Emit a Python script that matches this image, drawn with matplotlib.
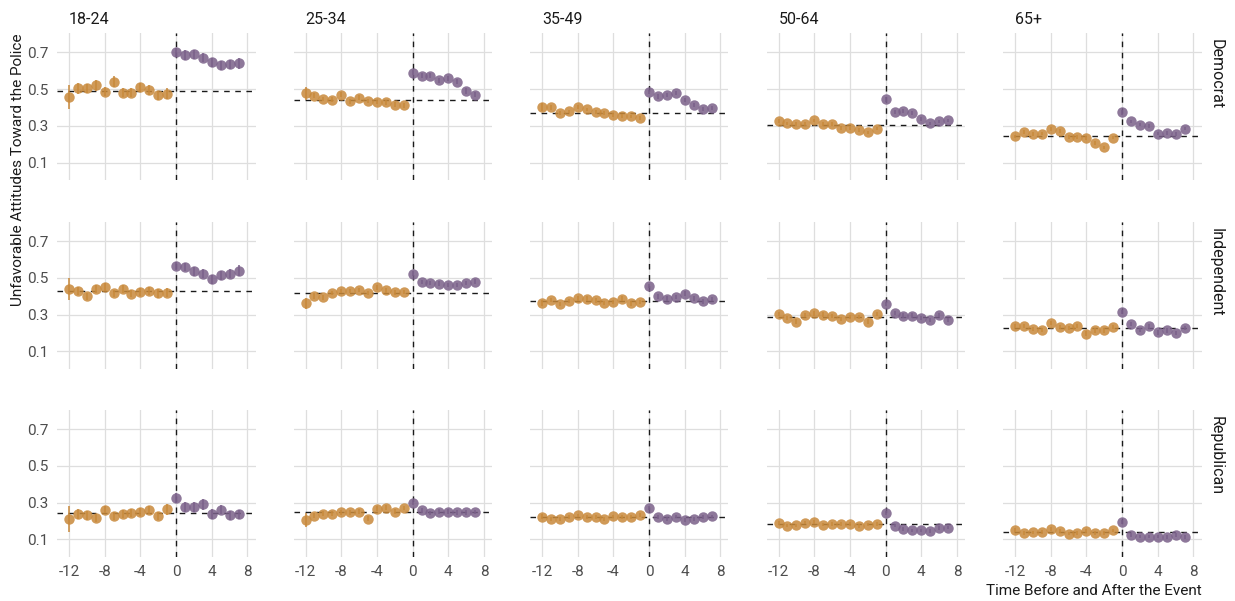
import matplotlib
matplotlib.use("Agg")
import matplotlib.pyplot as plt
import numpy as np

plt.rcParams['font.family'] = ['Roboto', 'DejaVu Sans']

ages = ["18-24", "25-34", "35-49", "50-64", "65+"]
parties = ["Democrat", "Independent", "Republican"]
months = list(range(-12, 8))

# values for months -12..7, rows = parties, inner = age groups
vals = {
    "Democrat": {
        "18-24": [0.455, 0.504, 0.505, 0.52, 0.485, 0.54, 0.48, 0.48, 0.51, 0.495, 0.465, 0.475,
                  0.70, 0.685, 0.69, 0.67, 0.645, 0.63, 0.635, 0.64],
        "25-34": [0.476, 0.464, 0.445, 0.442, 0.47, 0.433, 0.453, 0.435, 0.431, 0.427, 0.415, 0.411,
                  0.59, 0.573, 0.573, 0.547, 0.558, 0.54, 0.49, 0.47],
        "35-49": [0.40, 0.40, 0.371, 0.378, 0.404, 0.389, 0.375, 0.369, 0.358, 0.355, 0.351, 0.344,
                  0.485, 0.46, 0.467, 0.48, 0.44, 0.413, 0.39, 0.396],
        "50-64": [0.325, 0.313, 0.311, 0.309, 0.329, 0.309, 0.311, 0.287, 0.287, 0.278, 0.264, 0.285,
                  0.444, 0.375, 0.382, 0.371, 0.338, 0.313, 0.324, 0.329],
        "65+":   [0.242, 0.265, 0.256, 0.258, 0.282, 0.273, 0.24, 0.24, 0.235, 0.205, 0.182, 0.236,
                  0.373, 0.324, 0.307, 0.30, 0.258, 0.262, 0.256, 0.285],
    },
    "Independent": {
        "18-24": [0.439, 0.426, 0.399, 0.439, 0.45, 0.415, 0.44, 0.414, 0.423, 0.426, 0.415, 0.419,
                  0.565, 0.561, 0.536, 0.522, 0.493, 0.513, 0.522, 0.538],
        "25-34": [0.361, 0.40, 0.394, 0.417, 0.43, 0.43, 0.433, 0.417, 0.448, 0.432, 0.421, 0.423,
                  0.523, 0.477, 0.471, 0.469, 0.462, 0.462, 0.471, 0.48],
        "35-49": [0.363, 0.379, 0.359, 0.374, 0.388, 0.387, 0.377, 0.363, 0.37, 0.387, 0.361, 0.367,
                  0.457, 0.399, 0.387, 0.396, 0.414, 0.388, 0.372, 0.385],
        "50-64": [0.304, 0.28, 0.262, 0.298, 0.307, 0.30, 0.291, 0.275, 0.286, 0.286, 0.262, 0.304,
                  0.358, 0.309, 0.295, 0.295, 0.282, 0.271, 0.298, 0.271],
        "65+":   [0.237, 0.237, 0.223, 0.217, 0.253, 0.234, 0.228, 0.237, 0.196, 0.214, 0.214, 0.234,
                  0.313, 0.25, 0.217, 0.236, 0.203, 0.214, 0.201, 0.227],
    },
    "Republican": {
        "18-24": [0.211, 0.238, 0.231, 0.218, 0.262, 0.225, 0.24, 0.245, 0.251, 0.262, 0.225, 0.265,
                  0.325, 0.276, 0.276, 0.291, 0.238, 0.262, 0.231, 0.236],
        "25-34": [0.205, 0.229, 0.24, 0.24, 0.247, 0.247, 0.251, 0.213, 0.267, 0.273, 0.251, 0.269,
                  0.30, 0.258, 0.242, 0.251, 0.251, 0.247, 0.247, 0.249],
        "35-49": [0.224, 0.21, 0.212, 0.22, 0.23, 0.222, 0.22, 0.21, 0.225, 0.222, 0.222, 0.231,
                  0.271, 0.22, 0.211, 0.224, 0.204, 0.209, 0.22, 0.225],
        "50-64": [0.189, 0.175, 0.176, 0.191, 0.193, 0.18, 0.182, 0.182, 0.184, 0.173, 0.18, 0.182,
                  0.242, 0.175, 0.158, 0.149, 0.149, 0.144, 0.16, 0.164],
        "65+":   [0.151, 0.135, 0.138, 0.14, 0.156, 0.145, 0.131, 0.135, 0.145, 0.136, 0.135, 0.149,
                  0.193, 0.124, 0.115, 0.115, 0.115, 0.113, 0.122, 0.113],
    },
}

# standard-error half widths (months -12..7)
errs = {
    "Democrat": {
        "18-24": [0.065, 0.03, 0.025, 0.03, 0.025, 0.03, 0.025, 0.025, 0.025, 0.025, 0.025, 0.03,
                  0.025, 0.025, 0.025, 0.025, 0.025, 0.025, 0.025, 0.03],
        "25-34": [0.035, 0.015, 0.012, 0.012, 0.015, 0.012, 0.012, 0.012, 0.012, 0.012, 0.012, 0.012,
                  0.015, 0.015, 0.015, 0.015, 0.015, 0.015, 0.015, 0.015],
        "35-49": [0.022, 0.012, 0.01, 0.01, 0.01, 0.01, 0.01, 0.01, 0.01, 0.01, 0.01, 0.01,
                  0.012, 0.012, 0.012, 0.012, 0.012, 0.012, 0.012, 0.012],
        "50-64": [0.012, 0.01, 0.01, 0.01, 0.01, 0.01, 0.01, 0.01, 0.01, 0.01, 0.01, 0.01,
                  0.012, 0.01, 0.01, 0.01, 0.01, 0.01, 0.01, 0.01],
        "65+":   [0.01, 0.01, 0.01, 0.01, 0.01, 0.01, 0.01, 0.01, 0.01, 0.01, 0.01, 0.01,
                  0.012, 0.01, 0.01, 0.01, 0.01, 0.01, 0.01, 0.01],
    },
    "Independent": {
        "18-24": [0.06, 0.022, 0.02, 0.022, 0.022, 0.02, 0.022, 0.02, 0.02, 0.022, 0.022, 0.025,
                  0.022, 0.022, 0.025, 0.025, 0.025, 0.025, 0.025, 0.03],
        "25-34": [0.03, 0.015, 0.015, 0.012, 0.012, 0.012, 0.012, 0.012, 0.012, 0.012, 0.012, 0.012,
                  0.015, 0.012, 0.012, 0.012, 0.012, 0.012, 0.012, 0.012],
        "35-49": [0.015, 0.012, 0.012, 0.012, 0.012, 0.012, 0.012, 0.012, 0.012, 0.012, 0.012, 0.012,
                  0.012, 0.012, 0.012, 0.012, 0.012, 0.012, 0.012, 0.012],
        "50-64": [0.012, 0.012, 0.012, 0.012, 0.012, 0.012, 0.012, 0.012, 0.012, 0.012, 0.012, 0.012,
                  0.012, 0.012, 0.012, 0.012, 0.012, 0.012, 0.012, 0.012],
        "65+":   [0.012, 0.012, 0.012, 0.012, 0.012, 0.012, 0.012, 0.012, 0.012, 0.012, 0.012, 0.012,
                  0.012, 0.012, 0.012, 0.012, 0.012, 0.012, 0.012, 0.012],
    },
    "Republican": {
        "18-24": [0.07, 0.025, 0.025, 0.022, 0.02, 0.022, 0.022, 0.022, 0.022, 0.022, 0.022, 0.03,
                  0.025, 0.025, 0.025, 0.03, 0.025, 0.025, 0.025, 0.025],
        "25-34": [0.04, 0.015, 0.012, 0.012, 0.012, 0.012, 0.012, 0.012, 0.012, 0.012, 0.012, 0.012,
                  0.012, 0.012, 0.012, 0.012, 0.012, 0.012, 0.012, 0.012],
        "35-49": [0.012, 0.01, 0.01, 0.01, 0.01, 0.01, 0.01, 0.01, 0.01, 0.01, 0.01, 0.01,
                  0.012, 0.01, 0.01, 0.01, 0.01, 0.01, 0.01, 0.01],
        "50-64": [0.01, 0.01, 0.01, 0.01, 0.01, 0.01, 0.01, 0.01, 0.01, 0.01, 0.01, 0.01,
                  0.01, 0.01, 0.01, 0.01, 0.01, 0.01, 0.01, 0.01],
        "65+":   [0.01, 0.01, 0.01, 0.01, 0.01, 0.01, 0.01, 0.01, 0.01, 0.01, 0.01, 0.01,
                  0.01, 0.01, 0.01, 0.01, 0.01, 0.01, 0.01, 0.01],
    },
}

# pre-event baseline (dashed horizontal line)
baseline = {
    "Democrat":    [0.49, 0.442, 0.371, 0.304, 0.244],
    "Independent": [0.426, 0.417, 0.376, 0.289, 0.228],
    "Republican":  [0.242, 0.247, 0.222, 0.182, 0.140],
}

xticks = [-12, -8, -4, 0, 4, 8]
yticks = [0.1, 0.3, 0.5, 0.7]
ytick_labels = ["0.1", "0.3", "0.5", "0.7"]

pre_color = "#C8893B"
post_color = "#7A6089"
grid_color = "#DEDEDE"
text_color = "#4D4D4D"

W, H = 1235, 601
fig = plt.figure(figsize=(W / 100, H / 100), dpi=100)

lefts = [57, 293.5, 530, 766.5, 1003]
tops = [33, 221.8, 409.8]
pw, ph = 198.5, 147

months_arr = np.array(months)
pre = months_arr < 0

for r, party in enumerate(parties):
    for c, age in enumerate(ages):
        ax = fig.add_axes([lefts[c] / W, 1 - (tops[r] + ph) / H, pw / W, ph / H])
        ax.set_xlim(-13.35, 8.9)
        ax.set_ylim(0.005, 0.805)
        for s in ax.spines.values():
            s.set_visible(False)
        ax.set_xticks(xticks)
        ax.set_yticks(yticks)
        ax.grid(True, color=grid_color, linewidth=0.9)
        ax.set_axisbelow(True)
        ax.tick_params(length=0, labelsize=11, colors=text_color, pad=6)
        if c == 0:
            ax.set_yticklabels(ytick_labels)
        else:
            ax.set_yticklabels([])
        if r == 2:
            ax.set_xticklabels([str(t) for t in xticks])
        else:
            ax.set_xticklabels([])

        y = np.array(vals[party][age])
        e = np.array(errs[party][age])
        ax.axvline(0, color="#1a1a1a", linestyle=(0, (4, 4)), linewidth=1.0, zorder=2)
        ax.axhline(baseline[party][c], color="#1a1a1a", linestyle=(0, (4, 4)), linewidth=1.0, zorder=2)
        ax.errorbar(months_arr[pre], y[pre], yerr=e[pre], fmt='o', color=pre_color,
                    ms=7.5, mew=0, elinewidth=1.3, capsize=0, alpha=0.85, zorder=3)
        ax.errorbar(months_arr[~pre], y[~pre], yerr=e[~pre], fmt='o', color=post_color,
                    ms=7.5, mew=0, elinewidth=1.3, capsize=0, alpha=0.85, zorder=3)

        if r == 0:
            fig.text((lefts[c] + 12) / W, 1 - 19 / H, age, ha='left', va='center',
                     fontsize=11.5, color="#1a1a1a")
        if c == 4:
            fig.text(1216 / W, 1 - (tops[r] + 6) / H, party, rotation=270,
                     ha='center', va='top', fontsize=11.5, color="#1a1a1a")

fig.text(18 / W, 1 - 33 / H, "Unfavorable Attitudes Toward the Police", rotation=90,
         ha='center', va='top', fontsize=11, color="#1a1a1a")
fig.text((1003 + pw) / W, 1 - 591 / H, "Time Before and After the Event",
         ha='right', va='center', fontsize=11, color="#1a1a1a")

fig.savefig("out.png", dpi=100, facecolor="white")
